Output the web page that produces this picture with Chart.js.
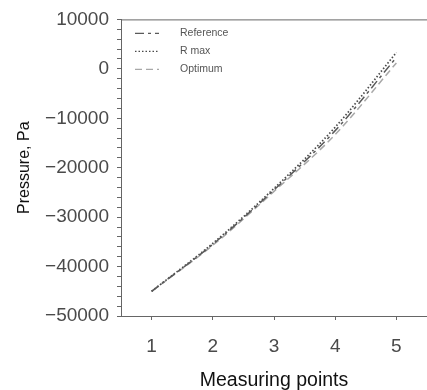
<!DOCTYPE html>
<html>
<head>
<meta charset="utf-8">
<script src="https://cdn.jsdelivr.net/npm/chart.js@4"></script>
<style>
  html, body { margin: 0; padding: 0; background: #fff; }
  #wrap { width: 427px; height: 390px; }
</style>
</head>
<body>
<div id="wrap"><canvas id="pressureChart" width="427" height="390"></canvas></div>
<script>
const points = [1, 2, 3, 4, 5];
const referenceValues = [-45000, -35500, -24500, -12500, 2300];
const rMaxValues = [-45000, -35300, -24200, -11800, 3300];
const optimumValues = [-45000, -35700, -24800, -13300, 1200];
const seriesNames = ["Reference", "R max", "Optimum"];

const FONT = "'Liberation Sans', Arial, sans-serif";

const toXY = values => values.map((y, i) => ({ x: points[i], y }));

// Legend drawn inside the plot, upper left, with the dataset dash styles.
const boxLegendPlugin = {
  id: "boxLegend",
  afterDraw(chart) {
    const { ctx, chartArea } = chart;
    ctx.save();

    // top frame line
    ctx.strokeStyle = "#666";
    ctx.lineWidth = 1;
    ctx.beginPath();
    ctx.moveTo(chartArea.left, chartArea.top + 0.5);
    ctx.lineTo(chartArea.right, chartArea.top + 0.5);
    ctx.stroke();

    ctx.font = `10.5px ${FONT}`;
    ctx.textBaseline = "middle";
    ctx.textAlign = "left";
    chart.data.datasets.forEach((ds, i) => {
      const y = chartArea.top + 14 + i * 18;
      ctx.strokeStyle = ds.borderColor;
      ctx.lineWidth = 1.3;
      ctx.setLineDash(ds.borderDash || []);
      ctx.beginPath();
      ctx.moveTo(chartArea.left + 14, y);
      ctx.lineTo(chartArea.left + 38, y);
      ctx.stroke();
      ctx.setLineDash([]);
      ctx.fillStyle = "#555";
      ctx.fillText(ds.label, chartArea.left + 59, y);
    });
    ctx.restore();
  }
};

new Chart(document.getElementById("pressureChart"), {
  type: "line",
  data: {
    datasets: [
      {
        label: seriesNames[0],
        data: toXY(referenceValues),
        borderColor: "#5a5a5a",
        borderDash: [9, 4, 3, 4],
        borderWidth: 1.5
      },
      {
        label: seriesNames[1],
        data: toXY(rMaxValues),
        borderColor: "#4a4a4a",
        borderDash: [1.5, 2],
        borderWidth: 1.7
      },
      {
        label: seriesNames[2],
        data: toXY(optimumValues),
        borderColor: "#a8a8a8",
        borderDash: [7, 4],
        borderWidth: 1.5
      }
    ]
  },
  plugins: [boxLegendPlugin],
  options: {
    responsive: false,
    animation: false,
    devicePixelRatio: 1,
    elements: {
      point: { radius: 0 },
      line: { cubicInterpolationMode: "monotone", fill: false }
    },
    layout: { padding: { top: 12, right: 0, left: 0, bottom: 0 } },
    plugins: {
      legend: { display: false },
      tooltip: { enabled: false }
    },
    scales: {
      x: {
        type: "linear",
        min: 0.5,
        max: 5.5,
        afterBuildTicks(axis) {
          axis.ticks = points.map(value => ({ value }));
        },
        afterFit(axis) { axis.height = 74; },
        ticks: {
          color: "#4a4a4a",
          font: { family: FONT, size: 19 },
          padding: 15,
          maxRotation: 0
        },
        grid: {
          drawOnChartArea: false,
          drawTicks: true,
          tickLength: 4,
          color: "#666"
        },
        border: { color: "#666", width: 1 },
        title: {
          display: true,
          text: "Measuring points",
          color: "#111",
          font: { family: FONT, size: 19.5 },
          padding: { top: 0, bottom: -2 }
        }
      },
      y: {
        min: -50000,
        max: 10000,
        afterFit(axis) { axis.width = 121; },
        ticks: {
          stepSize: 2000,
          autoSkip: false,
          color: "#4a4a4a",
          font: { family: FONT, size: 19 },
          padding: 8,
          callback: value => value % 10000 === 0
            ? (value < 0 ? "\u2212" + Math.abs(value) : String(value))
            : ""
        },
        grid: {
          drawOnChartArea: false,
          drawTicks: true,
          tickLength: 4,
          color: "#666"
        },
        border: { color: "#666", width: 1 },
        title: {
          display: true,
          text: "Pressure, Pa",
          color: "#111",
          font: { family: FONT, size: 16 },
          padding: { top: 15, bottom: 0 }
        }
      }
    }
  }
});
</script>
</body>
</html>
